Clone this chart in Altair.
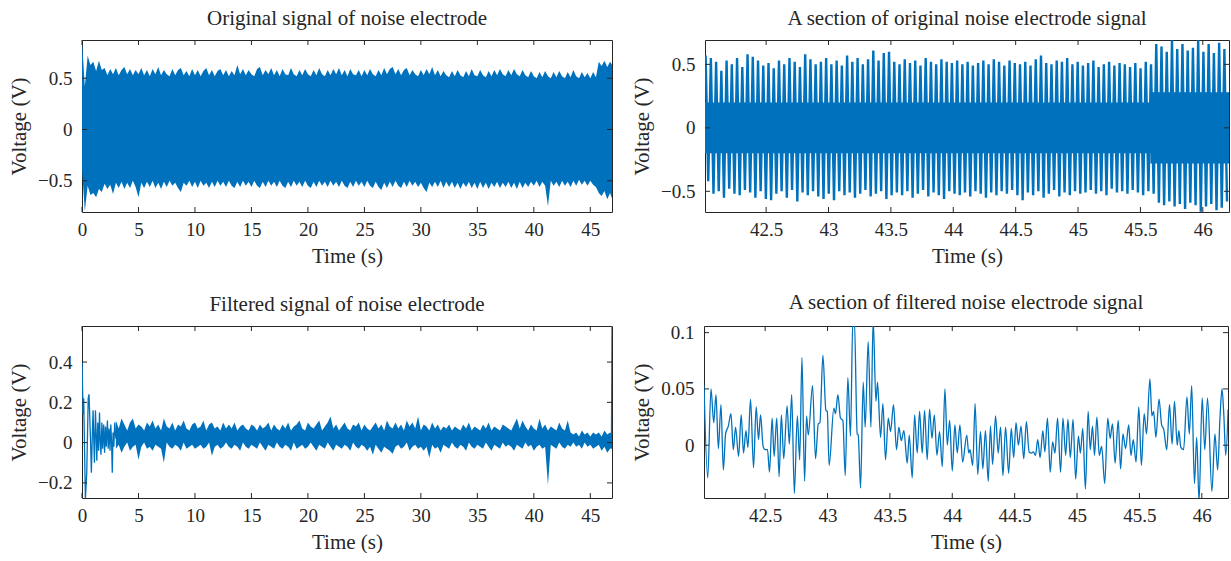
import altair as alt
import numpy as np
import pandas as pd

BLUE = "#0072BD"
INK = "#262626"
FONT = "Liberation Serif"

# ---------------- data ----------------
# Top-left: envelope of the dense raw signal, one value every 0.25 s from t = 0
TL_STEP = 0.25
TL_UPPER = [
    0.87, 0.42, 0.72, 0.63, 0.66, 0.57, 0.67, 0.58, 0.60, 0.53,
    0.59, 0.54, 0.60, 0.53, 0.58, 0.61, 0.54, 0.59, 0.53, 0.58,
    0.54, 0.60, 0.53, 0.58, 0.52, 0.59, 0.54, 0.61, 0.53, 0.58,
    0.54, 0.52, 0.59, 0.53, 0.58, 0.60, 0.53, 0.57, 0.52, 0.59,
    0.53, 0.58, 0.52, 0.57, 0.60, 0.53, 0.58, 0.52, 0.57, 0.59,
    0.53, 0.58, 0.52, 0.57, 0.53, 0.63, 0.54, 0.59, 0.53, 0.58,
    0.54, 0.52, 0.59, 0.61, 0.53, 0.58, 0.54, 0.60, 0.53, 0.58,
    0.52, 0.59, 0.54, 0.53, 0.60, 0.54, 0.52, 0.58, 0.53, 0.59,
    0.54, 0.52, 0.58, 0.53, 0.60, 0.54, 0.52, 0.58, 0.53, 0.59,
    0.54, 0.60, 0.53, 0.58, 0.52, 0.59, 0.54, 0.53, 0.58, 0.52,
    0.58, 0.53, 0.59, 0.54, 0.52, 0.58, 0.53, 0.60, 0.54, 0.59,
    0.61, 0.54, 0.59, 0.53, 0.58, 0.60, 0.53, 0.58, 0.54, 0.52,
    0.58, 0.53, 0.59, 0.54, 0.61, 0.53, 0.58, 0.52, 0.57, 0.53,
    0.51, 0.57, 0.52, 0.58, 0.53, 0.51, 0.57, 0.52, 0.59, 0.53,
    0.52, 0.58, 0.53, 0.51, 0.57, 0.52, 0.58, 0.53, 0.59, 0.54,
    0.52, 0.58, 0.53, 0.59, 0.54, 0.52, 0.58, 0.53, 0.51, 0.57,
    0.52, 0.50, 0.56, 0.51, 0.57, 0.52, 0.50, 0.56, 0.51, 0.57,
    0.52, 0.50, 0.56, 0.51, 0.58, 0.52, 0.50, 0.56, 0.51, 0.55,
    0.50, 0.56, 0.51, 0.66, 0.62, 0.67, 0.61, 0.66, 0.62,
]
TL_LOWER = [
    -0.38, -0.80, -0.55, -0.64, -0.62, -0.66, -0.58, -0.61, -0.53, -0.58,
    -0.54, -0.63, -0.52, -0.57, -0.51, -0.58, -0.52, -0.57, -0.50, -0.56,
    -0.66, -0.52, -0.57, -0.51, -0.56, -0.50, -0.57, -0.52, -0.58, -0.51,
    -0.56, -0.50, -0.55, -0.52, -0.57, -0.61, -0.52, -0.55, -0.50, -0.56,
    -0.51, -0.57, -0.50, -0.55, -0.52, -0.57, -0.51, -0.56, -0.50, -0.55,
    -0.51, -0.56, -0.50, -0.55, -0.57, -0.51, -0.56, -0.50, -0.55, -0.51,
    -0.56, -0.50, -0.55, -0.57, -0.51, -0.56, -0.50, -0.55, -0.51, -0.56,
    -0.50, -0.55, -0.57, -0.51, -0.56, -0.50, -0.55, -0.51, -0.56, -0.50,
    -0.55, -0.57, -0.51, -0.56, -0.50, -0.55, -0.51, -0.56, -0.50, -0.55,
    -0.51, -0.56, -0.50, -0.55, -0.57, -0.51, -0.56, -0.50, -0.55, -0.51,
    -0.56, -0.50, -0.55, -0.57, -0.51, -0.56, -0.59, -0.52, -0.57, -0.51,
    -0.56, -0.50, -0.55, -0.57, -0.51, -0.56, -0.50, -0.55, -0.51, -0.56,
    -0.52, -0.57, -0.61, -0.52, -0.56, -0.51, -0.56, -0.50, -0.57, -0.51,
    -0.56, -0.51, -0.57, -0.52, -0.58, -0.52, -0.56, -0.51, -0.57, -0.52,
    -0.58, -0.51, -0.57, -0.52, -0.58, -0.52, -0.56, -0.51, -0.57, -0.52,
    -0.56, -0.51, -0.57, -0.52, -0.58, -0.51, -0.57, -0.52, -0.56, -0.51,
    -0.55, -0.50, -0.56, -0.51, -0.55, -0.75, -0.50, -0.55, -0.51, -0.56,
    -0.50, -0.55, -0.51, -0.56, -0.50, -0.55, -0.49, -0.54, -0.50, -0.55,
    -0.50, -0.54, -0.56, -0.62, -0.65, -0.60, -0.68, -0.62, -0.70,
]

# Top-right: successive peaks and troughs of the raw signal section
TR_START = 42.015
TR_PERIOD = 0.042
TR_PEAKS = [
    0.57, 0.55, 0.52, 0.45, 0.53, 0.50, 0.55, 0.48, 0.58, 0.56, 0.53, 0.49,
    0.51, 0.47, 0.53, 0.50, 0.55, 0.52, 0.48, 0.58, 0.54, 0.50, 0.52, 0.55,
    0.50, 0.53, 0.49, 0.57, 0.52, 0.55, 0.50, 0.54, 0.61, 0.53, 0.59, 0.60,
    0.52, 0.50, 0.54, 0.51, 0.53, 0.49, 0.55, 0.52, 0.50, 0.54, 0.52, 0.51,
    0.53, 0.50, 0.52, 0.49, 0.51, 0.53, 0.50, 0.54, 0.52, 0.49, 0.53, 0.51,
    0.50, 0.52, 0.49, 0.54, 0.57, 0.51, 0.50, 0.53, 0.52, 0.55, 0.50, 0.52,
    0.49, 0.51, 0.53, 0.48, 0.50, 0.52, 0.49, 0.51, 0.50, 0.48, 0.51, 0.47,
    0.52, 0.50, 0.66, 0.64, 0.60, 0.69, 0.62, 0.66, 0.61, 0.63, 0.69, 0.60,
    0.66, 0.59, 0.67, 0.62,
]
TR_TROUGHS = [
    -0.42, -0.52, -0.50, -0.55, -0.48, -0.52, -0.53, -0.49, -0.51, -0.55, -0.50, -0.56,
    -0.57, -0.52, -0.50, -0.55, -0.49, -0.58, -0.51, -0.53, -0.50, -0.54, -0.56, -0.52,
    -0.57, -0.50, -0.53, -0.51, -0.55, -0.52, -0.49, -0.54, -0.52, -0.50, -0.56, -0.53,
    -0.51, -0.53, -0.50, -0.55, -0.52, -0.49, -0.54, -0.51, -0.53, -0.56, -0.50, -0.52,
    -0.53, -0.51, -0.54, -0.50, -0.52, -0.55, -0.51, -0.53, -0.50, -0.52, -0.49, -0.53,
    -0.57, -0.51, -0.53, -0.50, -0.55, -0.52, -0.49, -0.54, -0.51, -0.53, -0.50, -0.52,
    -0.51, -0.49, -0.52, -0.50, -0.53, -0.48, -0.51, -0.50, -0.52, -0.49, -0.51, -0.53,
    -0.50, -0.52, -0.59, -0.61, -0.58, -0.62, -0.60, -0.64, -0.59, -0.61, -0.66, -0.62,
    -0.60, -0.65, -0.63, -0.58,
]
# Top-right: extent of the solid (fully inked) middle of the trace
TR_CORE_T = [42.01, 45.58, 46.21]
TR_CORE_HI = [0.20, 0.28, 0.28]
TR_CORE_LO = [-0.20, -0.28, -0.28]

# Bottom-left: early decaying oscillation (explicit points) ...
BL_EARLY_T = [0.00, 0.10, 0.15, 0.30, 0.42, 0.55, 0.62, 0.75, 0.83, 0.92, 0.98, 1.06,
              1.10, 1.19, 1.25, 1.31, 1.40, 1.47, 1.55, 1.62, 1.68, 1.76, 1.83, 1.92,
              2.00, 2.08, 2.15, 2.25, 2.32, 2.40, 2.48, 2.55, 2.62, 2.68, 2.75, 2.82,
              2.90, 3.00]
BL_EARLY_V = [0.40, 0.14, 0.22, -0.28, -0.15, 0.22, 0.24, 0.02, -0.15, 0.05, 0.16, -0.02,
              -0.10, 0.16, 0.05, -0.09, 0.10, -0.04, 0.15, 0.00, -0.06, 0.10, -0.03, 0.09,
              -0.05, 0.08, -0.02, 0.11, -0.03, 0.07, -0.04, 0.09, 0.00, -0.15, 0.05, -0.02,
              0.10, 0.02]
# ... then envelope of the dense filtered band, one value every 0.25 s from t = 3
BL_BAND_START = 3.0
BL_STEP = 0.25
BL_UPPER = [
    0.11, 0.07, 0.12, 0.09, 0.06, 0.10, 0.12, 0.07, 0.09, 0.08,
    0.06, 0.10, 0.08, 0.11, 0.07, 0.09, 0.06, 0.12, 0.08, 0.07,
    0.10, 0.06, 0.09, 0.08, 0.11, 0.07, 0.06, 0.09, 0.10, 0.07,
    0.08, 0.11, 0.06, 0.09, 0.10, 0.07, 0.08, 0.06, 0.10, 0.07,
    0.09, 0.07, 0.10, 0.06, 0.08, 0.09, 0.07, 0.06, 0.09, 0.08,
    0.06, 0.09, 0.07, 0.08, 0.10, 0.06, 0.09, 0.07, 0.06, 0.09,
    0.07, 0.10, 0.06, 0.08, 0.09, 0.11, 0.07, 0.06, 0.10, 0.08,
    0.07, 0.09, 0.11, 0.06, 0.08, 0.10, 0.13, 0.07, 0.09, 0.06,
    0.08, 0.10, 0.07, 0.06, 0.09, 0.08, 0.10, 0.06, 0.09, 0.07,
    0.06, 0.08, 0.10, 0.07, 0.09, 0.06, 0.11, 0.08, 0.07, 0.10,
    0.07, 0.09, 0.06, 0.11, 0.08, 0.10, 0.07, 0.13, 0.06, 0.09,
    0.08, 0.06, 0.10, 0.07, 0.09, 0.06, 0.08, 0.07, 0.09, 0.06,
    0.08, 0.07, 0.06, 0.09, 0.07, 0.10, 0.06, 0.08, 0.07, 0.06,
    0.09, 0.07, 0.10, 0.06, 0.08, 0.07, 0.06, 0.09, 0.08, 0.07,
    0.06, 0.09, 0.12, 0.07, 0.11, 0.08, 0.06, 0.09, 0.07, 0.06,
    0.12, 0.07, 0.09, 0.06, 0.08, 0.07, 0.06, 0.10, 0.07, 0.06,
    0.11, 0.05, 0.04, 0.05, 0.03, 0.06, 0.04, 0.05, 0.03, 0.05,
    0.04, 0.05, 0.03, 0.06, 0.04, 0.05, 0.04,
]
BL_LOWER = [
    -0.03, -0.01, -0.05, -0.02, 0.00, -0.04, -0.02, -0.01, -0.085, -0.02,
    0.00, -0.03, -0.02, -0.04, -0.01, -0.02, -0.03, -0.10, 0.00, -0.02,
    -0.03, -0.01, -0.02, -0.04, 0.00, -0.03, -0.02, -0.01, -0.03, -0.02,
    -0.01, -0.03, -0.02, 0.00, -0.065, -0.02, -0.01, -0.03, -0.02, 0.00,
    -0.02, -0.03, -0.01, -0.02, -0.04, 0.00, -0.02, -0.03, -0.01, -0.02,
    -0.03, 0.00, -0.02, -0.04, -0.01, -0.02, -0.03, 0.00, -0.02, -0.03,
    -0.01, -0.02, -0.04, 0.00, -0.03, -0.02, -0.01, -0.03, -0.02, 0.00,
    -0.02, -0.04, -0.01, -0.02, -0.03, 0.00, -0.02, -0.04, -0.01, -0.02,
    -0.03, -0.01, -0.02, -0.04, 0.00, -0.02, -0.03, -0.01, -0.02, -0.04,
    -0.02, -0.06, -0.01, -0.03, -0.05, -0.02, -0.03, -0.04, -0.055, -0.02,
    -0.01, -0.03, -0.02, 0.00, -0.04, -0.02, -0.01, -0.03, -0.02, -0.04,
    -0.02, -0.075, -0.01, -0.03, -0.02, -0.05, -0.01, -0.02, -0.03, 0.00,
    -0.02, -0.03, -0.01, -0.02, -0.04, 0.00, -0.02, -0.03, -0.01, -0.02,
    -0.03, 0.00, -0.02, -0.04, -0.01, -0.02, -0.03, 0.00, -0.02, -0.01,
    -0.02, -0.04, -0.01, -0.02, -0.03, 0.00, -0.02, -0.01, -0.04, -0.02,
    -0.01, -0.03, -0.02, -0.21, -0.01, -0.02, -0.03, 0.00, -0.02, -0.03,
    -0.01, -0.02, 0.00, -0.02, -0.01, -0.03, 0.00, -0.02, -0.01, -0.03,
    -0.02, -0.01, -0.04, -0.02, -0.05, -0.03, -0.02,
]
# ... and the final transient at the right edge
BL_END_T = [46.80, 46.87, 46.92]
BL_END_V = [0.02, -0.03, 0.58]

# Bottom-right: filtered section, successive extrema
BR_T = [
    42.010, 42.040, 42.066, 42.088, 42.106, 42.125, 42.146, 42.165, 42.183, 42.205,
    42.226, 42.245, 42.263, 42.287, 42.308, 42.327, 42.346, 42.362, 42.383, 42.407,
    42.428, 42.447, 42.463, 42.484, 42.500, 42.519, 42.535, 42.556, 42.572, 42.593,
    42.612, 42.630, 42.649, 42.676, 42.694, 42.713, 42.734, 42.758, 42.777, 42.795,
    42.816, 42.832, 42.846, 42.880, 42.904, 42.926, 42.939, 42.963, 42.987, 42.998,
    43.013, 43.051, 43.064, 43.083, 43.104, 43.123, 43.142, 43.163, 43.184, 43.203,
    43.215, 43.238, 43.246, 43.265, 43.286, 43.302, 43.326, 43.348, 43.366, 43.388,
    43.401, 43.425, 43.444, 43.465, 43.487, 43.505, 43.529, 43.553, 43.572, 43.591,
    43.612, 43.639, 43.655, 43.679, 43.698, 43.719, 43.738, 43.759, 43.778, 43.799,
    43.818, 43.837, 43.856, 43.877, 43.898, 43.920, 43.941, 43.960, 43.979, 44.000,
    44.021, 44.040, 44.061, 44.083, 44.116, 44.132, 44.142, 44.164, 44.183, 44.204,
    44.226, 44.245, 44.266, 44.288, 44.306, 44.323, 44.347, 44.368, 44.387, 44.406,
    44.427, 44.452, 44.473, 44.492, 44.511, 44.530, 44.551, 44.573, 44.594, 44.616,
    44.634, 44.650, 44.667, 44.685, 44.704, 44.726, 44.742, 44.763, 44.785, 44.804,
    44.823, 44.844, 44.868, 44.887, 44.909, 44.927, 44.946, 44.968, 44.989, 45.011,
    45.027, 45.046, 45.067, 45.089, 45.106, 45.124, 45.140, 45.159, 45.178, 45.197,
    45.222, 45.246, 45.265, 45.284, 45.305, 45.330, 45.349, 45.368, 45.389, 45.414,
    45.432, 45.451, 45.473, 45.495, 45.516, 45.538, 45.557, 45.584, 45.600, 45.614,
    45.632, 45.657, 45.678, 45.695, 45.719, 45.741, 45.762, 45.781, 45.803, 45.816,
    45.832, 45.854, 45.881, 45.900, 45.919, 45.941, 45.959, 45.978, 46.003, 46.024,
    46.046, 46.081, 46.105, 46.127, 46.146, 46.162, 46.176, 46.192, 46.211,
]
BR_V = [
    0.053, -0.029, 0.050, 0.020, 0.045, -0.003, 0.036, -0.022, 0.010, 0.017,
    0.028, -0.004, 0.016, -0.010, 0.027, -0.007, 0.013, -0.002, 0.041, -0.020,
    0.034, 0.005, 0.027, -0.001, -0.004, -0.004, -0.024, 0.024, -0.010, 0.024,
    -0.028, 0.027, -0.012, 0.035, 0.001, 0.045, -0.043, 0.026, -0.013, 0.078,
    -0.032, 0.026, 0.009, 0.053, -0.012, 0.019, 0.020, 0.080, 0.031, 0.030,
    -0.018, 0.033, 0.028, 0.045, 0.024, 0.022, -0.027, 0.060, 0.008, 0.112,
    0.112, 0.010, 0.009, -0.038, 0.056, 0.016, 0.092, 0.016, 0.112, 0.039,
    0.056, 0.007, 0.037, -0.013, 0.024, 0.012, 0.036, -0.004, 0.016, 0.004,
    0.013, -0.016, 0.009, -0.029, 0.027, -0.007, 0.030, -0.007, 0.031, -0.013,
    0.032, 0.006, 0.027, -0.009, 0.012, -0.019, 0.050, 0.000, 0.022, -0.023,
    0.018, -0.007, 0.018, -0.015, 0.009, -0.007, -0.004, -0.018, 0.037, -0.026,
    0.012, -0.021, 0.013, -0.032, 0.017, -0.017, 0.026, -0.007, 0.016, -0.027,
    0.016, -0.025, 0.015, -0.011, 0.020, 0.000, 0.017, -0.012, 0.021, -0.006,
    -0.007, -0.006, -0.009, 0.005, -0.011, 0.013, -0.006, 0.024, -0.024, 0.003,
    -0.007, 0.024, -0.024, 0.024, -0.009, 0.023, -0.011, 0.023, -0.030, 0.008,
    -0.007, 0.015, -0.039, 0.030, -0.004, 0.017, -0.009, 0.025, -0.009, -0.001,
    -0.034, 0.024, 0.006, 0.019, -0.016, 0.022, -0.021, 0.010, -0.003, 0.018,
    -0.009, 0.005, -0.015, 0.034, -0.018, 0.028, 0.010, 0.059, 0.026, 0.030,
    0.007, 0.041, 0.018, 0.014, -0.004, 0.036, 0.001, 0.039, 0.000, 0.013,
    -0.002, -0.004, 0.043, 0.010, 0.053, -0.034, 0.007, -0.050, 0.042, -0.004,
    0.042, -0.041, 0.010, -0.022, 0.025, 0.050, 0.028, -0.009, 0.032,
]

TITLES = [
    "Original signal of noise electrode",
    "A section of original noise electrode signal",
    "Filtered signal of noise electrode",
    "A section of filtered noise electrode signal",
]
X_TITLE = "Time (s)"
Y_TITLE = "Voltage (V)"
X_TICKS_FULL = [0, 5, 10, 15, 20, 25, 30, 35, 40, 45]
X_TICKS_SECTION = [42.5, 43, 43.5, 44, 44.5, 45, 45.5, 46]
Y_TICKS_TL = [-0.5, 0, 0.5]
Y_TICKS_TR = [-0.5, 0, 0.5]
Y_TICKS_BL = [-0.2, 0, 0.2, 0.4]
Y_TICKS_BR = [0, 0.05, 0.1]
X_DOM_FULL = [0, 46.92]
X_DOM_SECTION = [42.01, 46.21]
Y_DOM_TL = [-0.805, 0.873]
Y_DOM_TR = [-0.663, 0.692]
Y_DOM_BL = [-0.275, 0.579]
Y_DOM_BR = [-0.0469, 0.1059]


# ---------------- tables ----------------
def band(start, step, highs, lows):
    n = min(len(highs), len(lows))
    return pd.DataFrame({"t": start + np.arange(n) * step,
                         "hi": highs[:n], "lo": lows[:n]})


def zigzag(start, step, highs, lows):
    """Dense trace: each high at t, the matching low half a step later."""
    rows = []
    for k, (hi, lo) in enumerate(zip(highs, lows)):
        rows.append({"t": start + k * step, "v": hi})
        rows.append({"t": start + k * step + step / 2, "v": lo})
    return pd.DataFrame(rows)


tl_band = band(0.0, TL_STEP, TL_UPPER, TL_LOWER)
tr_line = zigzag(TR_START, TR_PERIOD, TR_PEAKS, TR_TROUGHS)
tr_core = pd.DataFrame({"t": TR_CORE_T, "hi": TR_CORE_HI, "lo": TR_CORE_LO})
bl_band = band(BL_BAND_START, BL_STEP, BL_UPPER, BL_LOWER)
bl_early = pd.DataFrame({"t": BL_EARLY_T, "v": BL_EARLY_V})
bl_end = pd.DataFrame({"t": BL_END_T, "v": BL_END_V})
n_br = min(len(BR_T), len(BR_V))
br_line = pd.DataFrame({"t": BR_T[:n_br], "v": BR_V[:n_br]})


def panel(layers, xdom, ydom, xticks, yticks, xfmt, yfmt, title, w, h):
    xs = alt.Scale(domain=xdom, nice=False, zero=False)
    ys = alt.Scale(domain=ydom, nice=False, zero=False)
    xax = alt.Axis(values=xticks, format=xfmt, title=X_TITLE, labelFlush=False)
    yax = alt.Axis(values=yticks, format=yfmt, title=Y_TITLE, labelFlush=False)
    charts = []
    for kind, df, opts in layers:
        if kind == "area":
            c = alt.Chart(df).mark_area(color=BLUE, opacity=1, clip=True, **opts).encode(
                x=alt.X("t:Q", scale=xs, axis=xax),
                y=alt.Y("lo:Q", scale=ys, axis=yax),
                y2="hi:Q",
            )
        else:
            c = alt.Chart(df).mark_line(color=BLUE, clip=True, **opts).encode(
                x=alt.X("t:Q", scale=xs, axis=xax),
                y=alt.Y("v:Q", scale=ys, axis=yax),
            )
        charts.append(c)
    # inward ticks on all four sides (MATLAB box style)
    lx = 5.0 / w * (xdom[1] - xdom[0])
    ly = 5.0 / h * (ydom[1] - ydom[0])
    rows = []
    for xt in xticks:
        rows.append({"t": xt, "t2": xt, "v": ydom[0], "v2": ydom[0] + ly})
        rows.append({"t": xt, "t2": xt, "v": ydom[1], "v2": ydom[1] - ly})
    for yt in yticks:
        rows.append({"t": xdom[0], "t2": xdom[0] + lx, "v": yt, "v2": yt})
        rows.append({"t": xdom[1], "t2": xdom[1] - lx, "v": yt, "v2": yt})
    ticks = alt.Chart(pd.DataFrame(rows)).mark_rule(color=INK, strokeWidth=1).encode(
        x=alt.X("t:Q", scale=xs, axis=xax), x2="t2:Q",
        y=alt.Y("v:Q", scale=ys, axis=yax), y2="v2:Q",
    )
    charts.append(ticks)
    return alt.layer(*charts).properties(
        width=w, height=h, title=alt.TitleParams(title)
    )


W_L, W_R, H = 530, 524, 172

tl = panel([("area", tl_band, {})], X_DOM_FULL, Y_DOM_TL, X_TICKS_FULL, Y_TICKS_TL,
           "d", "~g", TITLES[0], W_L, H)
tr = panel([("area", tr_core, {"interpolate": "step-after"}),
            ("line", tr_line, {"strokeWidth": 2.4})], X_DOM_SECTION, Y_DOM_TR,
           X_TICKS_SECTION, Y_TICKS_TR, "~g", "~g", TITLES[1], W_R, H)
bl = panel([("line", bl_early, {"strokeWidth": 1.3}),
            ("area", bl_band, {}),
            ("line", bl_end, {"strokeWidth": 1.3})],
           X_DOM_FULL, Y_DOM_BL, X_TICKS_FULL, Y_TICKS_BL, "d", "~g", TITLES[2], W_L, H)
br = panel([("line", br_line, {"strokeWidth": 1.3, "interpolate": "monotone"})],
           X_DOM_SECTION, Y_DOM_BR, X_TICKS_SECTION, Y_TICKS_BR, "~g", "~g", TITLES[3], W_R, H)

chart = alt.vconcat(
    alt.hconcat(tl, tr, spacing=18),
    alt.hconcat(bl, br, spacing=18),
    spacing=24,
).properties(
    padding={"left": 8, "top": 7, "right": 0, "bottom": 0}
).configure_view(
    stroke=INK, strokeWidth=1
).configure_axis(
    domain=False, ticks=False, grid=False,
    labelFont=FONT, labelFontSize=19, labelColor=INK,
    titleFont=FONT, titleFontSize=21, titleFontWeight="normal", titleColor=INK,
).configure_axisX(
    labelPadding=8, titlePadding=6
).configure_axisY(
    labelPadding=10, titlePadding=8
).configure_title(
    font=FONT, fontSize=21, fontWeight="normal", color=INK, offset=11
)

chart.save("out.html", embed_options={"renderer": "svg", "actions": False})
